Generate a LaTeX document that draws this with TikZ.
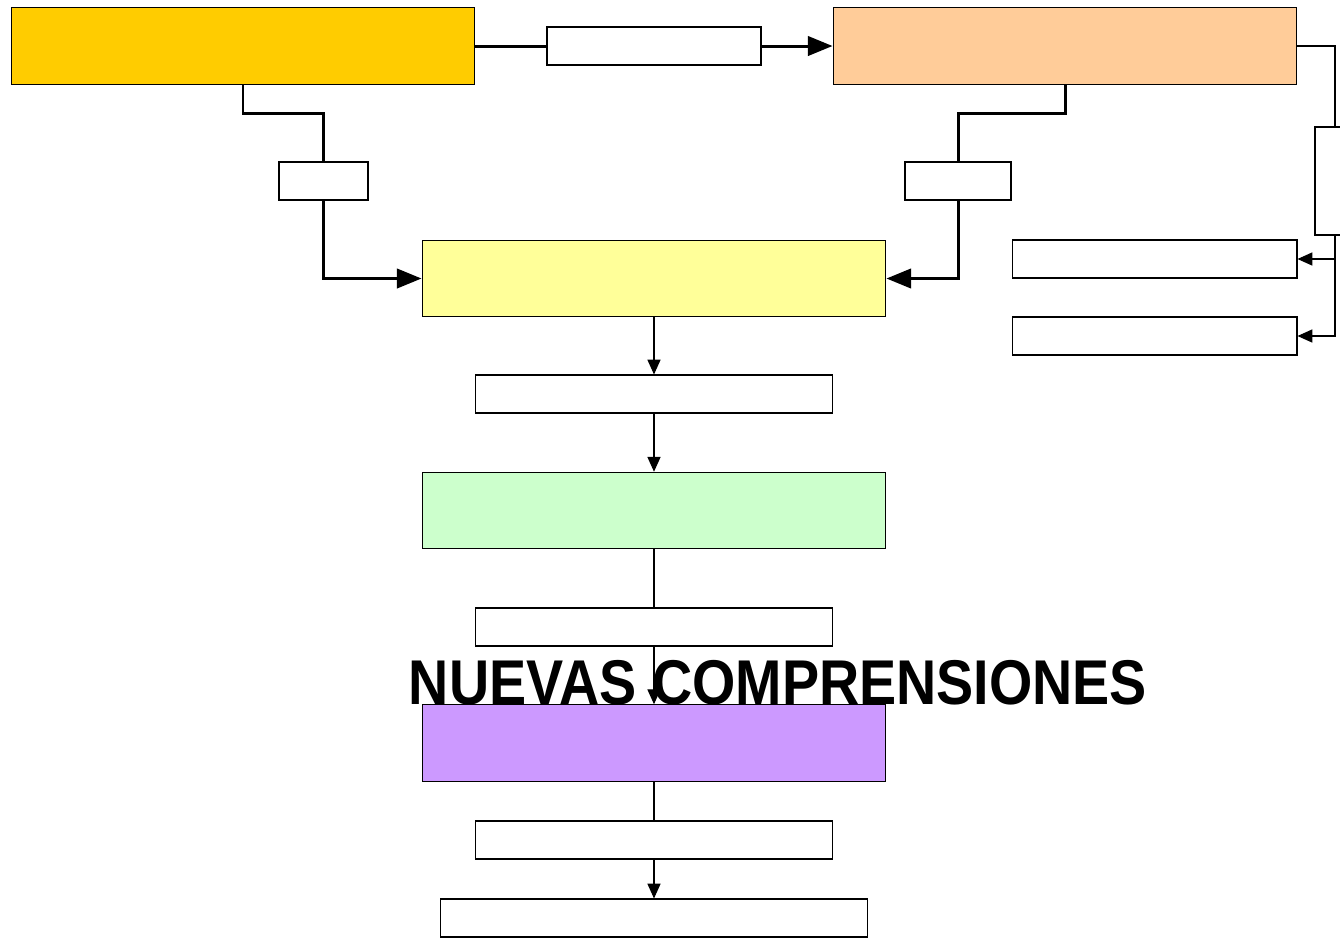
\documentclass[tikz,border=0pt]{standalone}
\usepackage{fontspec}
\setmainfont{Liberation Sans}
\usepackage{tikz}
\usetikzlibrary{arrows.meta, calc}

\definecolor{colA}{HTML}{FFCC00}
\definecolor{colB}{HTML}{FFCC99}
\definecolor{colC}{HTML}{FFFF99}
\definecolor{colD}{HTML}{CCFFCC}
\definecolor{colE}{HTML}{CC99FF}

\begin{document}
\begin{tikzpicture}[x = 0.02cm, y = -0.02cm,
    > = {Triangle[length=8.5pt, width=7.5pt]},
    bigbox/.style = {draw, line width = 0.6pt, inner sep = 0pt, minimum width = 9.28cm, minimum height = 1.53cm},
    tag/.style = {draw, fill = white, line width = 0.6pt, inner sep = 0pt, minimum height = 0.76cm},
    heavy/.style = {line width = 1.7pt, > = {Triangle[length=14pt, width=11pt]}},
    thin/.style = {line width = 0.6pt}]
  \useasboundingbox (0,0) rectangle (1340,941);
  % main boxes
  \node[bigbox, fill = colA] (know)  at (243,46)    {};
  \node[bigbox, fill = colB] (plan)  at (1065,46)   {};
  \node[bigbox, fill = colC] (act)   at (654,278.5) {};
  \node[bigbox, fill = colD] (obs)   at (654,510.5) {};
  \node[bigbox, fill = colE] (refl)  at (654,743)   {};
  % small labels
  \node[tag, minimum width = 4.28cm] (top)   at (654,46)     {};
  \node[tag, minimum width = 1.78cm] (left)  at (323.5,181)  {};
  \node[tag, minimum width = 2.12cm] (right) at (958,181)    {};
  \node[tag, minimum width = 0.8cm, minimum height = 2.16cm] (side) at (1335,181) {};
  \node[tag, minimum width = 5.7cm]  (sideA) at (1154.5,259) {};
  \node[tag, minimum width = 5.7cm]  (sideB) at (1154.5,336) {};
  \node[tag, minimum width = 7.14cm] (midA)  at (654,394)    {};
  \node[tag, minimum width = 7.14cm] (midB)  at (654,627)    {};
  \node[tag, minimum width = 7.14cm] (midC)  at (654,840)    {};
  \node[tag, minimum width = 8.56cm] (last)  at (654,918)    {};
  % heavy connectors
  \draw[heavy] (know.east) -- (top.west);
  \draw[heavy, ->] (top.east) -- (plan.west);
  \draw[heavy] (know.south) -- ++(0,29) -| (left.north);
  \draw[heavy, ->] (left.south) |- (act.west);
  \draw[heavy] (plan.south) -- ++(0,29) -| (right.north);
  \draw[heavy, ->] (right.south) |- (act.east);
  % thin connectors
  \draw[thin] (plan.east) -| (side.north);
  \draw[thin, ->] (side.south) |- (sideA.east);
  \draw[thin, ->] (side.south) |- (sideB.east);
  \draw[thin, ->] (act.south) -- (midA.north);
  \draw[thin, ->] (midA.south) -- (obs.north);
  \draw[thin] (obs.south) -- (midB.north);
  \draw[thin, ->] (midB.south) -- (refl.north);
  \draw[thin] (refl.south) -- (midC.north);
  \draw[thin, ->] (midC.south) -- (last.north);
  % title
  \node[font = \fontsize{36}{40}\selectfont\bfseries, xscale = 0.88, inner sep = 0pt] (title) at (778,683) {NUEVAS COMPRENSIONES};
\end{tikzpicture}
\end{document}
